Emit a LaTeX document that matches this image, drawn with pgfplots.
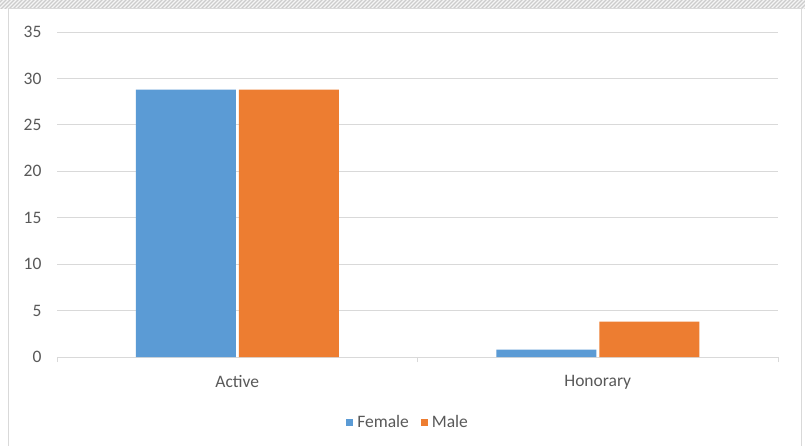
\documentclass[border=0pt]{standalone}
\usepackage{fontspec}
\setmainfont{Carlito}
\usepackage{pgfplots}
\pgfplotsset{compat=1.18}
\definecolor{cblue}{HTML}{5B9BD5}
\definecolor{corange}{HTML}{ED7D31}
\definecolor{ctext}{HTML}{595959}
\definecolor{cgrid}{HTML}{D9D9D9}
\begin{document}
\begin{tikzpicture}[x=1pt,y=1pt]
\path[use as bounding box] (0,0) rectangle (805,445);
\fill[white] (0,0) rectangle (805,445);
\begin{scope}
\clip (0,436) rectangle (805,445);
\fill[gray!8] (0,436) rectangle (805,445);
\foreach \i in {-12,-8,...,812} \draw[gray!40, line width=1.1pt] (\i,435) -- (\i+11,446);
\end{scope}
\draw[cgrid, line width=1pt] (8,-2) rectangle (801,436);
\begin{axis}[
  at={(57pt,88pt)}, anchor=south west, scale only axis,
  width=721pt, height=325pt,
  ymin=0, ymax=35, ytick={0,5,...,35},
  xmin=-0.5, xmax=1.5,
  xtick={-0.5,0.5,1.5}, xticklabels={Active,Honorary},
  x tick label as interval,
  ybar, bar width=100pt,
  axis x line=bottom, axis y line=left,
  x axis line style={draw=cgrid, line width=1pt, -},
  y axis line style={draw=none},
  ytick style={draw=none},
  xtick style={draw=cgrid, line width=1pt},
  tick align=outside, major tick length=5pt,
  ymajorgrids, grid style={cgrid, line width=0.8pt},
  /pgf/number format/assume math mode=true,
  tick label style={font=\fontsize{17.5}{20}\selectfont, text=ctext},
  yticklabel style={xshift=-7pt},
  xticklabel style={yshift=-10pt},
  legend style={at={(0.487,-0.2)}, anchor=center, draw=none, fill=none,
    legend columns=2, font=\fontsize{17.5}{20}\selectfont, text=ctext,
    /tikz/every even column/.append style={column sep=10pt}},
  legend image code/.code={\fill[#1] (0pt,-3.5pt) rectangle (7pt,3.5pt); \path (9pt,0pt);},
]
\addplot[fill=cblue, draw=none, bar shift=-51.5pt] coordinates {(0,28.8) (1,0.8)};
\addplot[fill=corange, draw=none, bar shift=51.5pt] coordinates {(0,28.8) (1,3.8)};
\legend{Female,Male}
\end{axis}
\end{tikzpicture}
\end{document}
